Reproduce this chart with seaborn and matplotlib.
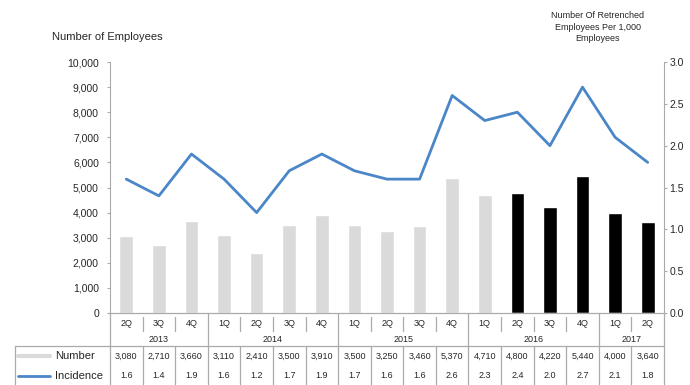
import matplotlib
matplotlib.use("Agg")
import matplotlib.pyplot as plt
import matplotlib.transforms as mtransforms
from matplotlib.ticker import FuncFormatter
import seaborn as sns
import pandas as pd

# Data
quarters = ["2Q", "3Q", "4Q", "1Q", "2Q", "3Q", "4Q", "1Q", "2Q", "3Q", "4Q",
            "1Q", "2Q", "3Q", "4Q", "1Q", "2Q"]
years = ["2013"] * 3 + ["2014"] * 4 + ["2015"] * 4 + ["2016"] * 4 + ["2017"] * 2
number = [3080, 2710, 3660, 3110, 2410, 3500, 3910, 3500, 3250, 3460, 5370,
          4710, 4800, 4220, 5440, 4000, 3640]
incidence = [1.6, 1.4, 1.9, 1.6, 1.2, 1.7, 1.9, 1.7, 1.6, 1.6, 2.6,
             2.3, 2.4, 2.0, 2.7, 2.1, 1.8]
n_grey = 12  # bars drawn grey, the rest black

df = pd.DataFrame({"quarter": quarters, "year": years,
                   "number": number, "incidence": incidence})
df["period"] = df["quarter"] + " " + df["year"]
df["pos"] = range(len(df))

W, H = 690, 385
fig = plt.figure(figsize=(6.9, 3.85), dpi=100)
sns.set_style("white")
plt.rcParams["font.family"] = ["Liberation Sans", "DejaVu Sans"]

left_px, right_px, top_px, bot_px = 110, 664, 62, 313
ax = fig.add_axes([left_px / W, 1 - bot_px / H, (right_px - left_px) / W, (bot_px - top_px) / H])

line_col = "#aaaaaa"
blue = "#4a86c8"
bar_colors = ["#dadada"] * n_grey + ["#000000"] * (len(df) - n_grey)
sns.barplot(data=df, x="period", y="number", hue="period", palette=bar_colors,
            width=0.42, legend=False, ax=ax, saturation=1)
ax.set_xlim(-0.5, len(df) - 0.5)
ax.set_ylim(0, 10000)
ax.set_yticks(range(0, 10001, 1000))
ax.yaxis.set_major_formatter(FuncFormatter(lambda v, p: f"{int(v):,}"))
ax.set_xticks([])
ax.set_xlabel("")
ax.set_ylabel("")
ax.tick_params(axis="y", labelsize=7.5, length=2, color=line_col, pad=6, left=True)

ax2 = ax.twinx()
sns.lineplot(data=df, x="pos", y="incidence", color=blue, linewidth=2, ax=ax2)
ax2.set_xlim(-0.5, len(df) - 0.5)
ax2.set_ylim(0, 3.0)
ax2.set_yticks([0, 0.5, 1.0, 1.5, 2.0, 2.5, 3.0])
ax2.yaxis.set_major_formatter(FuncFormatter(lambda v, p: f"{v:.1f}"))
ax2.set_xlabel("")
ax2.set_ylabel("")
ax2.tick_params(axis="y", labelsize=7.5, length=2, color=line_col, pad=2, right=True)

for a in (ax, ax2):
    a.spines["top"].set_visible(False)
    a.spines["left"].set_color(line_col)
    a.spines["right"].set_color(line_col)
    a.spines["bottom"].set_color(line_col)
ax.spines["right"].set_visible(False)
ax2.spines["left"].set_visible(False)

# Titles
fig.text(107 / W, 1 - 37 / H, "Number of Employees", fontsize=8, ha="center", va="center")
fig.text(598 / W, 1 - 27 / H, "Number Of Retrenched\nEmployees Per 1,000\nEmployees",
         fontsize=6.5, ha="center", va="center", linespacing=1.4)

# Category axis / table below the plot
tr = mtransforms.blended_transform_factory(ax.transData, fig.transFigure)


def fy(py):
    return 1 - py / H


n = len(df)
xs = df["pos"].tolist()
for i, q in enumerate(quarters):
    ax.text(xs[i], fy(324), q, transform=tr, ha="center", va="center", fontsize=6.5)
    ax.text(xs[i], fy(356), f"{number[i]:,}", transform=tr, ha="center", va="center", fontsize=6.5)
    ax.text(xs[i], fy(376), f"{incidence[i]:.1f}", transform=tr, ha="center", va="center", fontsize=6.5)

# year groups
bounds = [-0.5]
for i in range(1, n):
    if years[i] != years[i - 1]:
        bounds.append(i - 0.5)
bounds.append(n - 0.5)
year_names = [years[0]] + [years[i] for i in range(1, n) if years[i] != years[i - 1]]
for k, y in enumerate(year_names):
    ax.text((bounds[k] + bounds[k + 1]) / 2, fy(340), y, transform=tr,
            ha="center", va="center", fontsize=6.5)

lw = 0.9
for b in bounds:
    ax.plot([b, b], [fy(bot_px), fy(346)], transform=tr, color=line_col, lw=lw, clip_on=False)
for i in range(n - 1):
    b = i + 0.5
    if b not in bounds:
        ax.plot([b, b], [fy(317), fy(331)], transform=tr, color=line_col, lw=lw, clip_on=False)
    ax.plot([b, b], [fy(346), fy(385)], transform=tr, color=line_col, lw=lw, clip_on=False)
ax.plot([-0.5, -0.5], [fy(346), fy(385)], transform=tr, color=line_col, lw=lw, clip_on=False)
ax.plot([n - 0.5, n - 0.5], [fy(346), fy(385)], transform=tr, color=line_col, lw=lw, clip_on=False)

# table border and row legends
fig.add_artist(plt.Line2D([15 / W, right_px / W], [fy(346), fy(346)], color=line_col, lw=lw))
fig.add_artist(plt.Line2D([15 / W, 15 / W], [fy(346), fy(385)], color=line_col, lw=lw))

fig.add_artist(plt.Line2D([18 / W, 50 / W], [fy(356), fy(356)], color="#dadada", lw=3))
fig.text(55 / W, fy(356), "Number", fontsize=8, ha="left", va="center")
fig.add_artist(plt.Line2D([18 / W, 50 / W], [fy(376), fy(376)], color=blue, lw=2))
fig.text(55 / W, fy(376), "Incidence", fontsize=8, ha="left", va="center")

fig.savefig("out.png", dpi=100)
